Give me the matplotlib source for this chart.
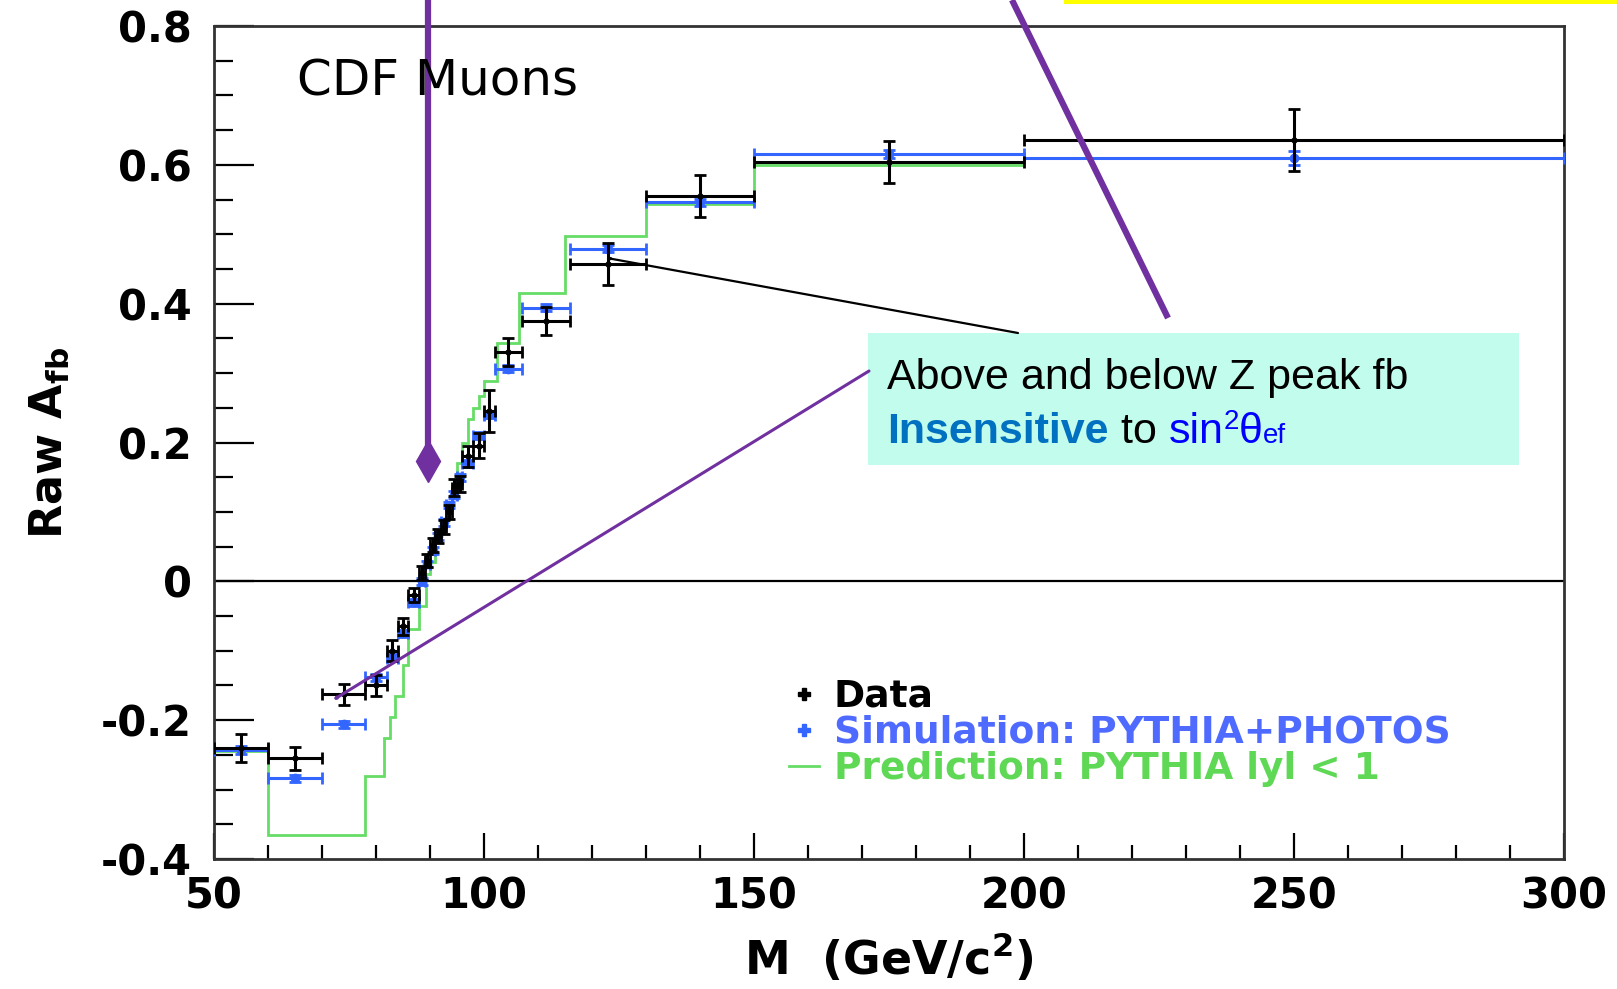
import numpy as np
import matplotlib.pyplot as plt
from matplotlib.lines import Line2D
from matplotlib.patches import Rectangle, FancyArrowPatch
from matplotlib.ticker import MultipleLocator, FuncFormatter

W, H = 1617, 989

# mass bins (GeV/c^2) shared by data and simulation
edges = [50, 60, 70, 78, 82, 84, 86, 88, 89, 90, 91, 92, 93, 94, 95, 96,
         98, 100, 102, 107, 116, 130, 150, 200, 300]
data_afb = [-0.240, -0.255, -0.163, -0.150, -0.100, -0.065, -0.020, 0.012, 0.030,
            0.052, 0.065, 0.078, 0.100, 0.135, 0.140, 0.180, 0.195, 0.245,
            0.330, 0.375, 0.457, 0.555, 0.604, 0.636]
data_err = [0.020, 0.017, 0.015, 0.015, 0.015, 0.012, 0.010, 0.010, 0.010,
            0.010, 0.010, 0.010, 0.010, 0.012, 0.012, 0.015, 0.018, 0.030,
            0.020, 0.020, 0.030, 0.030, 0.030, 0.045]
sim_afb = [-0.243, -0.284, -0.206, -0.138, -0.110, -0.075, -0.030, 0.000, 0.025,
           0.045, 0.065, 0.085, 0.110, 0.125, 0.150, 0.170, 0.210, 0.240,
           0.306, 0.394, 0.479, 0.546, 0.616, 0.610]
sim_err = [0.006, 0.005, 0.005, 0.005, 0.005, 0.005, 0.005, 0.005, 0.005,
           0.005, 0.005, 0.005, 0.005, 0.005, 0.005, 0.005, 0.005, 0.005,
           0.005, 0.005, 0.005, 0.005, 0.006, 0.010]

# prediction histogram (finer binning)
pred_edges = [50, 60, 78, 81.5, 82.5, 83.5, 85, 86, 88, 89.3, 90, 91, 92, 93, 94,
              95, 96, 97, 98, 99, 100, 102.4, 106.4, 115, 130, 150, 200]
pred_afb = [-0.245, -0.365, -0.280, -0.225, -0.195, -0.165, -0.120, -0.068, -0.035,
            0.010, 0.028, 0.060, 0.090, 0.115, 0.138, 0.170, 0.200, 0.234, 0.250,
            0.267, 0.289, 0.344, 0.416, 0.497, 0.543, 0.600]

labels = ["Data", "Simulation: PYTHIA+PHOTOS", "Prediction: PYTHIA lyl < 1"]

C_DATA = "black"
C_SIM = "#3366ff"
C_PRED = "#66dd66"
PURPLE = "#7030A0"

plt.rcParams['mathtext.default'] = 'bf'


def fp(x, y):
    # pixel position (top-left origin) -> figure fraction
    return x / W, 1 - y / H


fig = plt.figure(figsize=(W / 100, H / 100), dpi=100)
ax = fig.add_axes([214 / W, 1 - 859 / H, 1350 / W, 833 / H])

e = np.array(edges, dtype=float)
xc = 0.5 * (e[1:] + e[:-1])
xw = 0.5 * (e[1:] - e[:-1])

ax.stairs(pred_afb, pred_edges, baseline=None, color=C_PRED, lw=2, zorder=2)
ax.errorbar(xc, sim_afb, xerr=xw, yerr=sim_err, fmt='o', ms=6, color=C_SIM,
            elinewidth=2.2, capsize=4, capthick=2, zorder=3)
ax.errorbar(xc, data_afb, xerr=xw, yerr=data_err, fmt='o', ms=3.5, color=C_DATA,
            elinewidth=2.2, capsize=4, capthick=2, zorder=4)
ax.axhline(0, color='black', lw=1.6, zorder=1)

ax.set_xlim(50, 300)
ax.set_ylim(-0.4, 0.8)
ax.xaxis.set_major_locator(MultipleLocator(50))
ax.xaxis.set_minor_locator(MultipleLocator(10))
ax.yaxis.set_major_locator(MultipleLocator(0.2))
ax.yaxis.set_minor_locator(MultipleLocator(0.05))
ax.yaxis.set_major_formatter(FuncFormatter(lambda v, p: "0" if abs(v) < 1e-9 else "%.1f" % v))
ax.tick_params(which='both', direction='in', top=False, right=False, width=1.6,
               labelsize=30)
ax.tick_params(axis='x', which='major', length=19, pad=12)
ax.tick_params(axis='x', which='minor', length=10)
ax.tick_params(axis='y', which='major', length=29, pad=16)
ax.tick_params(axis='y', which='minor', length=14)
for lab in ax.get_xticklabels() + ax.get_yticklabels():
    lab.set_fontweight('bold')
for sp in ax.spines.values():
    sp.set_linewidth(2)
    sp.set_color('#333333')

ax.set_xlabel(r"M  (GeV/c$^{2}$)", fontsize=33, fontweight='bold', va='top')
ax.xaxis.set_label_coords(0.5, -0.088)
ax.set_ylabel(r"Raw A$_{fb}$", fontsize=32, fontweight='bold')
ax.yaxis.set_label_coords(-0.106, 0.5)

handles = [Line2D([], [], marker='P', ls='none', color=C_DATA, ms=9),
           Line2D([], [], marker='P', ls='none', color=C_SIM, ms=9),
           Line2D([], [], color=C_PRED, lw=2)]
ax.legend(handles, labels, loc='upper left', bbox_to_anchor=(0.412, 0.239),
          frameon=False, handlelength=0.8, handletextpad=0.4, labelspacing=0.0,
          borderpad=0, labelcolor=[C_DATA, "#4F6BFF", "#5FD855"],
          prop={'weight': 'bold', 'size': 27})

fig.text(*fp(297, 96), "CDF Muons", fontsize=36, va='baseline', ha='left')

# slide overlays
fig.add_artist(Rectangle(fp(1064, 4), 553 / W, 4 / H, transform=fig.transFigure,
                         facecolor='#FFFF00', edgecolor='none'))
fig.add_artist(Line2D([fp(428, 0)[0], fp(428, 455)[0]], [fp(428, 0)[1], fp(428, 455)[1]],
                      transform=fig.transFigure, color=PURPLE, lw=4.5))
fig.add_artist(Line2D([fp(428, 461)[0]], [fp(428, 461)[1]], transform=fig.transFigure,
                      marker='d', ms=21, color=PURPLE, mec=PURPLE))
fig.add_artist(Line2D([fp(1012, 0)[0], fp(1168, 318)[0]], [fp(1012, 0)[1], fp(1168, 318)[1]],
                      transform=fig.transFigure, color=PURPLE, lw=4.5,
                      solid_capstyle='butt'))

fig.add_artist(Rectangle(fp(868, 465), 651 / W, 132 / H, transform=fig.transFigure,
                         facecolor='#C2FCED', edgecolor='none', zorder=5))
fig.add_artist(FancyArrowPatch(fp(1018, 333), fp(607, 258), transform=fig.transFigure,
                               arrowstyle='-|>,head_length=0.8,head_width=0.35',
                               color='black', lw=1.6, shrinkA=0, shrinkB=0, zorder=6))
fig.add_artist(FancyArrowPatch(fp(869, 371), fp(333, 700), transform=fig.transFigure,
                               arrowstyle='-|>,head_length=0.9,head_width=0.45',
                               color=PURPLE, lw=2.2, shrinkA=0, shrinkB=0, zorder=6))

bfont = 'Liberation Sans'
fig.text(*fp(887, 389), "Above and below Z peak fb", fontsize=31, family=bfont,
         va='baseline', color='black', zorder=7)

renderer = fig.canvas.get_renderer()
x = 887
pieces = [("Insensitive", 'bold', '#0070C0', 31, 0),
          (" to ", 'normal', 'black', 31, 0),
          ("sin", 'normal', '#0000FF', 31, 0),
          ("2", 'normal', '#0000FF', 20, -14),
          ("θ", 'normal', '#0000FF', 31, 0),
          ("ef", 'normal', '#0000FF', 20, 0)]
for s, wgt, col, size, dy in pieces:
    t = fig.text(*fp(x, 443 + dy), s, fontsize=size, family=bfont, fontweight=wgt,
                 color=col, va='baseline', zorder=7)
    bb = t.get_window_extent(renderer)
    x = bb.x1

fig.savefig("out.png", dpi=100)
